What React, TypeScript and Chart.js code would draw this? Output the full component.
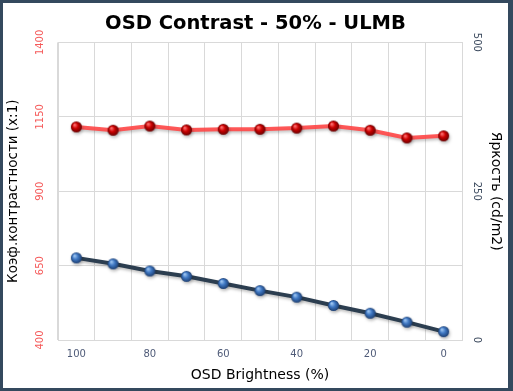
import React, { useEffect, useRef } from "react";
import { Chart, registerables } from "chart.js";

Chart.register(...registerables);

const categories = ["100", "90", "80", "70", "60", "50", "40", "30", "20", "10", "0"];
const contrastValues = [1116, 1105, 1119, 1106, 1108, 1108, 1112, 1119, 1105, 1079, 1086];
const brightnessValues = [138, 128, 116, 107, 95, 83, 72, 58, 45, 30, 14];
const contrastAxis = { min: 400, max: 1400, step: 250 };
const brightnessAxis = { min: 0, max: 500, step: 250 };

const titleText = "OSD Contrast - 50% - ULMB";
const xTitle = "OSD Brightness (%)";
const yLeftTitle = "Коэф.контрастности (x:1)";
const yRightTitle = "Яркость (cd/m2)";

const FONT = "'DejaVu Sans', Verdana, sans-serif";

function makeBall(r: number, light: string, mid: string, dark: string): HTMLCanvasElement {
  const c = document.createElement("canvas");
  const s = r * 2 + 2;
  c.width = s;
  c.height = s;
  const ctx = c.getContext("2d")!;
  const cx = s / 2;
  const g = ctx.createRadialGradient(cx - r * 0.35, cx - r * 0.4, r * 0.1, cx, cx, r);
  g.addColorStop(0, light);
  g.addColorStop(0.45, mid);
  g.addColorStop(1, dark);
  ctx.beginPath();
  ctx.arc(cx, cx, r, 0, Math.PI * 2);
  ctx.fillStyle = g;
  ctx.fill();
  return c;
}

const shadowPlugin = {
  id: "lineShadow",
  beforeDatasetDraw(chart: any) {
    const ctx = chart.ctx;
    ctx.save();
    ctx.shadowColor = "rgba(0,0,0,0.25)";
    ctx.shadowBlur = 3;
    ctx.shadowOffsetX = 1;
    ctx.shadowOffsetY = 2;
  },
  afterDatasetDraw(chart: any) {
    chart.ctx.restore();
  },
};

// Rotated tick labels for the two value axes, placed with the scales' own pixel mapping.
const rotatedTicksPlugin = {
  id: "rotatedTicks",
  afterDraw(chart: any) {
    const ctx = chart.ctx;
    const specs = [
      { id: "y", color: "#f55a5a", angle: -Math.PI / 2, x: (s: any) => s.right - 18 },
      { id: "y1", color: "#3c4a5e", angle: Math.PI / 2, x: (s: any) => s.left + 15 },
    ];
    for (const sp of specs) {
      const scale = chart.scales[sp.id];
      if (!scale) continue;
      for (const t of scale.ticks) {
        const y = scale.getPixelForValue(t.value);
        ctx.save();
        ctx.translate(sp.x(scale), y);
        ctx.rotate(sp.angle);
        ctx.font = `10px ${FONT}`;
        ctx.fillStyle = sp.color;
        ctx.textAlign = "center";
        ctx.textBaseline = "middle";
        ctx.fillText(String(t.value), 0, 0);
        ctx.restore();
      }
    }
  },
};

export default function App() {
  const ref = useRef<HTMLCanvasElement>(null);

  useEffect(() => {
    const redBall = makeBall(5.5, "#ff7070", "#cc0000", "#6a0000");
    const blueBall = makeBall(5.5, "#9cc4f0", "#3f78c4", "#1d3f72");
    const gridColor = "#d9d9d9";

    const chart = new Chart(ref.current!, {
      type: "line",
      data: {
        labels: categories,
        datasets: [
          {
            label: "contrast",
            data: contrastValues,
            yAxisID: "y",
            borderColor: "rgba(255,70,70,0.9)",
            borderWidth: 4,
            pointStyle: redBall as any,
            pointRadius: 6,
            tension: 0,
          },
          {
            label: "brightness",
            data: brightnessValues,
            yAxisID: "y1",
            borderColor: "#2c3e50",
            borderWidth: 4,
            pointStyle: blueBall as any,
            pointRadius: 6,
            tension: 0,
          },
        ],
      },
      options: {
        responsive: false,
        animation: false,
        layout: { padding: 0 },
        plugins: {
          legend: { display: false },
          tooltip: { enabled: false },
          title: {
            display: true,
            text: titleText,
            color: "#000",
            font: { family: FONT, size: 19.5, weight: "bold", lineHeight: 1.2 },
            padding: { top: 9, bottom: 7 },
          },
        },
        scales: {
          x: {
            type: "category",
            offset: true,
            grid: { color: gridColor, offset: true, drawTicks: false },
            border: { color: gridColor },
            ticks: {
              autoSkip: false,
              maxRotation: 0,
              padding: 8,
              color: "#4f5b78",
              font: { family: FONT, size: 10 },
              callback: (_v: any, i: number) => (i % 2 === 0 ? categories[i] : ""),
            },
            title: {
              display: true,
              text: xTitle,
              color: "#000",
              font: { family: FONT, size: 14, lineHeight: 1.2 },
              padding: { top: 0, bottom: 4 },
            },
            afterFit: (s: any) => {
              s.height = 48;
            },
          },
          y: {
            position: "left",
            min: contrastAxis.min,
            max: contrastAxis.max,
            grid: { color: gridColor, drawTicks: false },
            border: { color: gridColor },
            ticks: {
              stepSize: contrastAxis.step,
              display: false,
            },
            title: {
              display: true,
              text: yLeftTitle,
              color: "#000",
              font: { family: FONT, size: 13.5, lineHeight: 1.2 },
              padding: { top: 2, bottom: 0 },
            },
            afterFit: (s: any) => {
              s.width = 55;
            },
          },
          y1: {
            position: "right",
            min: brightnessAxis.min,
            max: brightnessAxis.max,
            grid: { display: false, drawTicks: false },
            border: { color: gridColor },
            ticks: {
              stepSize: brightnessAxis.step,
              display: false,
            },
            title: {
              display: true,
              text: yRightTitle,
              color: "#000",
              font: { family: FONT, size: 14, lineHeight: 1.2 },
              padding: { top: 4, bottom: 0 },
            },
            afterFit: (s: any) => {
              s.width = 46;
            },
          },
        },
      },
      plugins: [shadowPlugin, rotatedTicksPlugin],
    });
    return () => chart.destroy();
  }, []);

  return (
    <div
      style={{
        position: "fixed",
        left: 0,
        top: 0,
        width: 513,
        height: 391,
        boxSizing: "border-box",
        borderStyle: "solid",
        borderColor: "#34495e",
        borderWidth: "3px 5px 3px 3px",
        background: "#fff",
      }}
    >
      <canvas ref={ref} width={505} height={385} style={{ display: "block" }} />
    </div>
  );
}
